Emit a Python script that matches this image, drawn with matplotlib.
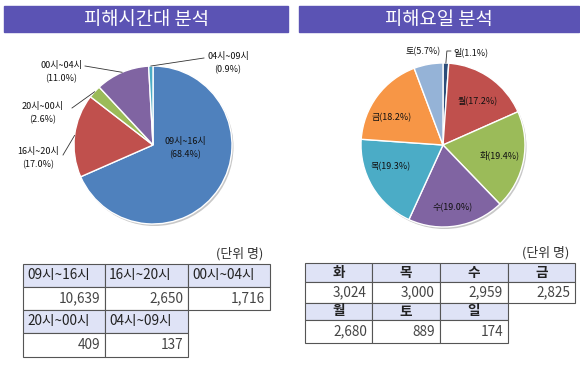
import matplotlib
matplotlib.use("Agg")
import matplotlib.pyplot as plt
import numpy as np
from matplotlib.patches import Rectangle

plt.rcParams['font.family'] = ['Noto Sans CJK KR', 'DejaVu Sans']

W, H = 580, 368

# 피해시간대 (clockwise from 12 o'clock)
time_labels = ["09시~16시", "16시~20시", "20시~00시", "00시~04시", "04시~09시"]
time_counts = [10639, 2650, 409, 1716, 137]
time_colors = ["#4f81bd", "#c0504d", "#9bbb59", "#8064a2", "#4bacc6"]

# 피해요일 (clockwise from 12 o'clock)
day_labels = ["일", "월", "화", "수", "목", "금", "토"]
day_counts = [174, 2680, 3024, 2959, 3000, 2825, 889]
day_colors = ["#2c4d7a", "#c0504d", "#9bbb59", "#8064a2", "#4bacc6", "#f79646", "#95b3d7"]

# table layouts (rows of labels)
time_table_rows = [["09시~16시", "16시~20시", "00시~04시"], ["20시~00시", "04시~09시"]]
day_table_rows = [["화", "목", "수", "금"], ["월", "토", "일"]]

BAR = "#5b53b4"
HEAD_BG = "#dfe3f6"
EDGE = "#555555"


def Y(y):
    return H - y


fig = plt.figure(figsize=(W / 100, H / 100), dpi=100)
ax = fig.add_axes([0, 0, 1, 1])
ax.set_xlim(0, W)
ax.set_ylim(0, H)
ax.axis("off")

# title bars
for x0, x1, title in [(4, 288, "피해시간대 분석"), (299, 579, "피해요일 분석")]:
    ax.add_patch(Rectangle((x0, Y(32)), x1 - x0, 26, color=BAR, zorder=1))
    ax.text((x0 + x1) / 2, Y(19), title, color="white", fontsize=13.5,
            ha="center", va="center", zorder=2)


def draw_pie(counts, colors, cx, cy, r):
    # soft shadow
    ax.add_patch(plt.Circle((cx + 1.5, Y(cy) - 2), r, color="#c8c8c8", zorder=1, lw=0))
    wedges, _ = ax.pie(counts, colors=colors, startangle=90, counterclock=False,
                       center=(cx, Y(cy)), radius=r, frame=True,
                       wedgeprops=dict(edgecolor="white", linewidth=1.0))
    for w in wedges:
        w.set_zorder(2)
    return wedges


def edge_point(w, cx, cy, r, frac=1.0):
    a = np.deg2rad((w.theta1 + w.theta2) / 2)
    return cx + r * frac * np.cos(a), Y(cy) + r * frac * np.sin(a)


total_t = sum(time_counts)
total_d = sum(day_counts)

# left pie
lcx, lcy, lr = 153, 145, 79
lw_ = draw_pie(time_counts, time_colors, lcx, lcy, lr)
# label positions (pixel, top-based) and leader end points
time_text_pos = [(185, 148), (38, 158), (43, 113), (61, 72), (228, 63)]
time_leader_end = [None, (63, 155), (72, 108), (85, 66), (204, 58)]
for i, (w, lab, n) in enumerate(zip(lw_, time_labels, time_counts)):
    tx, ty = time_text_pos[i]
    ax.text(tx, Y(ty), f"{lab}\n({n / total_t * 100:.1f}%)", fontsize=6.5,
            ha="center", va="center", linespacing=1.5, color="#111111", zorder=4)
    if time_leader_end[i] is not None:
        px, py = edge_point(w, lcx, lcy, lr)
        ex, ey = time_leader_end[i]
        ax.plot([px, ex], [py, Y(ey)], color="#333333", lw=0.6, zorder=3)

# right pie
rcx, rcy, rr = 443, 145, 82
rw_ = draw_pie(day_counts, day_colors, rcx, rcy, rr)
day_text_pos = [(471, 52), (478, 100), (500, 155), (453, 208), (391, 167), (392, 118), (423, 52)]
for i, (w, lab, n) in enumerate(zip(rw_, day_labels, day_counts)):
    tx, ty = day_text_pos[i]
    ax.text(tx, Y(ty), f"{lab}({n / total_d * 100:.1f}%)", fontsize=6.5,
            ha="center", va="center", color="#111111", zorder=4)
# leader for 일
px, py = edge_point(rw_[0], rcx, rcy, rr)
ax.plot([px, px + 1, px + 5], [py, Y(51), Y(51)], color="#333333", lw=0.6, zorder=3)


def draw_table(rows, values, xs, ys, unit_xy, head_ha, head_bold):
    for r, row in enumerate(rows):
        y_head0, y_head1, y_val1 = ys[2 * r], ys[2 * r + 1], ys[2 * r + 2]
        for c, lab in enumerate(row):
            x0, x1 = xs[c], xs[c + 1]
            ax.add_patch(Rectangle((x0, Y(y_head1)), x1 - x0, y_head1 - y_head0,
                                   facecolor=HEAD_BG, edgecolor=EDGE, lw=0.8, zorder=2))
            ax.add_patch(Rectangle((x0, Y(y_val1)), x1 - x0, y_val1 - y_head1,
                                   facecolor="white", edgecolor=EDGE, lw=0.8, zorder=2))
            hx = x0 + 4 if head_ha == "left" else (x0 + x1) / 2
            ax.text(hx, Y((y_head0 + y_head1) / 2), lab, fontsize=9.8, ha=head_ha,
                    va="center", fontweight="bold" if head_bold else "normal",
                    color="#222222", zorder=3)
            ax.text(x1 - 5, Y((y_head1 + y_val1) / 2), f"{values[lab]:,}", fontsize=9.8,
                    ha="right", va="center", color="#444444", zorder=3)
    ax.text(unit_xy[0], Y(unit_xy[1]), "(단위 명)", fontsize=9.3, ha="right",
            va="center", color="#333333")


draw_table(time_table_rows, dict(zip(time_labels, time_counts)),
           [23, 105, 188, 270], [264, 287, 310, 333, 357], (263, 254), "left", False)
draw_table(day_table_rows, dict(zip(day_labels, day_counts)),
           [305, 372, 440, 508, 575], [263, 282, 303, 320, 343], (569, 253), "center", True)

fig.savefig("out.png", dpi=100)
